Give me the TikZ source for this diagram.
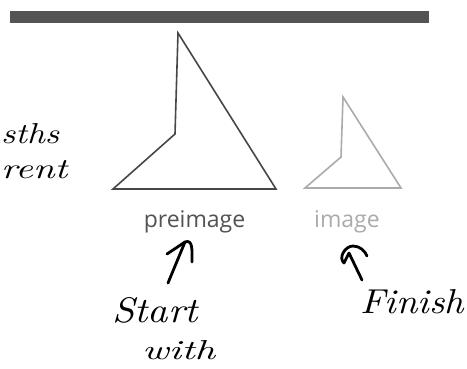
\documentclass[tikz,border=0pt]{standalone}
\usepackage{fontspec}
\setmainfont{Open Sans}
\newfontfamily\handfont{Latin Modern Roman}
% handwritten note scaled to a given width and height
\newcommand\penword[3]{\resizebox{#1}{#2}{\handfont\itshape #3}}
\begin{document}
\begin{tikzpicture}[x=1pt,y=-1pt,
  shapeline/.style={line width=1.6pt,line join=miter},
  lbl/.style={font=\fontsize{23}{24}\selectfont,inner sep=0pt},
  hand/.style={inner sep=0pt,anchor=base west},
  pen/.style={line width=2.8pt,line cap=round,line join=round}]
\useasboundingbox (0,0) rectangle (467,368);
\fill[white] (0,0) rectangle (467,368);
% top bar
\fill[black!67] (10,11) rectangle (429,23);
% preimage figure
\draw[shapeline,black!72] (178,33) -- (175,134) -- (113,189) -- (276,189) -- cycle;
% image figure
\draw[shapeline,black!33] (343,97) -- (341,157) -- (305,188) -- (401,188) -- cycle;
% labels
\node[lbl,text=black!68] (pre) at (194.5,222) {preimage};
\node[lbl,text=black!33] (img) at (347,222) {image};
% handwritten notes
\node[hand] (n1) at (1,143) {\penword{58pt}{20pt}{sths}};
\node[hand] (n2) at (1,178) {\penword{66pt}{18pt}{rent}};
\node[hand] (start) at (112,322) {\penword{86pt}{25pt}{Start}};
\node[hand] (with) at (142,359) {\penword{73pt}{19pt}{with}};
\node[hand] (fin) at (360,313) {\penword{104pt}{24pt}{Finish}};
% pen arrows pointing up at the labels
\coordinate (a1s) at (168,283);
\coordinate (a1e) at (185,242);
\coordinate (a1l) at (167,254);
\coordinate (a1r) at (192,262);
\draw[pen] (a1s) -- (a1e);
\draw[pen] (a1l) -- (a1e) .. controls (193,239) and (192,250) .. (a1r);
\coordinate (a2s) at (362,280);
\coordinate (a2e) at (349,253);
\coordinate (a2l) at (344,263);
\coordinate (a2r) at (367,256);
\draw[pen] (a2s) -- (a2e);
\draw[pen] (a2e) -- (a2l) .. controls (338,258) and (345,246) .. (353,246)
  .. controls (360,246) and (365,251) .. (a2r);
\end{tikzpicture}
\end{document}
